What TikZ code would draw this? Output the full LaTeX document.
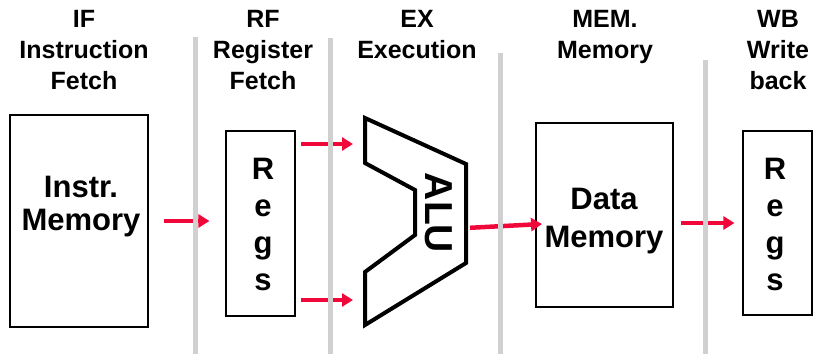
\documentclass[tikz,border=0pt]{standalone}
\usepackage{fontspec}
\setmainfont{Liberation Sans}
\usetikzlibrary{arrows.meta,positioning}

\definecolor{pipered}{RGB}{240,8,58}
\definecolor{stagegray}{RGB}{208,208,208}

\begin{document}
\begin{tikzpicture}[
    x=1pt, y=-1pt,
    >={Triangle[length=11pt,width=13pt]},
    stagehead/.style={anchor=north, align=center, inner sep=0pt, font=\fontsize{25}{31}\selectfont\bfseries},
    unit/.style={rectangle, draw=black, line width=1.1pt, fill=white, inner sep=0pt},
    unitlabel/.style={anchor=north, align=center, inner sep=0pt, font=\fontsize{31}{33}\selectfont\bfseries},
    regletter/.style={anchor=base, inner sep=0pt, font=\fontsize{31}{37}\selectfont\bfseries},
    alubody/.style={draw=black, line width=4pt, fill=white, line join=miter},
    alulabel/.style={rotate=-90, inner sep=0pt, font=\fontsize{39}{39}\selectfont\bfseries},
    flow/.style={->, draw=pipered, line width=4.5pt},
    divider/.style={draw=stagegray, line width=5pt}
]
\useasboundingbox (0,0) rectangle (825,354);

% Stage headings
\node[stagehead] (hd-if) at (84,10) {IF\\Instruction\\Fetch};
\node[stagehead] (hd-rf) at (263,10) {RF\\Register\\Fetch};
\node[stagehead] (hd-ex) at (417,10) {EX\\Execution};
\node[stagehead] (hd-mem) at (605,10) {MEM.\\Memory};
\node[stagehead] (hd-wb) at (778,10) {WB\\Write\\back};

% Memories and register files
\node[unit, minimum width=138pt, minimum height=212pt] (imem) at (79,221) {};
\node[unit, minimum width=69pt, minimum height=185pt] (rf) at (260.5,223.5) {};
\node[unit, minimum width=137pt, minimum height=184pt] (dmem) at (604.5,215) {};
\node[unit, minimum width=69pt, minimum height=184pt] (wb) at (777.5,223) {};

\node[unitlabel] (imem-lbl) at (81,176) {Instr.\\Memory};
\node[unitlabel, font=\fontsize{31}{38}\selectfont\bfseries] (dmem-lbl) at (604,188) {Data\\Memory};

% Regs written top to bottom
\foreach \ch [count=\i] in {R,e,g,s} {
    \node[regletter] (rf-\i) at (263,179+37*\i-37) {\ch};
    \node[regletter] (wb-\i) at (775,179+37*\i-37) {\ch};
}

% ALU outline with its two inputs and output
\draw[alubody] (365,118) -- (466,164) -- (466,263) -- (365,325) -- (365,272)
    -- (415,235) -- (415,190) -- (365,163) -- cycle;
\node[alulabel] (alu-lbl) at (439,213) {ALU};
\coordinate (alu-in1) at (365,144);
\coordinate (alu-in2) at (365,300);
\coordinate (alu-out) at (466,228);
\coordinate (mem-in) at (542,224);

% Data flow between stages
\draw[flow, shorten <=15pt, shorten >=16pt] (imem.east) -- (imem.east -| rf.west);
\draw[flow, shorten <=5pt, shorten >=12pt] (rf.east |- alu-in1) -- (alu-in1);
\draw[flow, shorten <=5pt, shorten >=12pt] (rf.east |- alu-in2) -- (alu-in2);
\draw[flow, shorten <=4pt] (alu-out) -- (mem-in);
\draw[flow, shorten <=7pt, shorten >=8pt] (dmem.east |- wb.west) -- (wb.west);

% Pipeline register boundaries
\foreach \x/\top in {195/37, 330/38, 500/53, 705/60}
    \draw[divider] (\x,\top) -- (\x,354);

\end{tikzpicture}
\end{document}
